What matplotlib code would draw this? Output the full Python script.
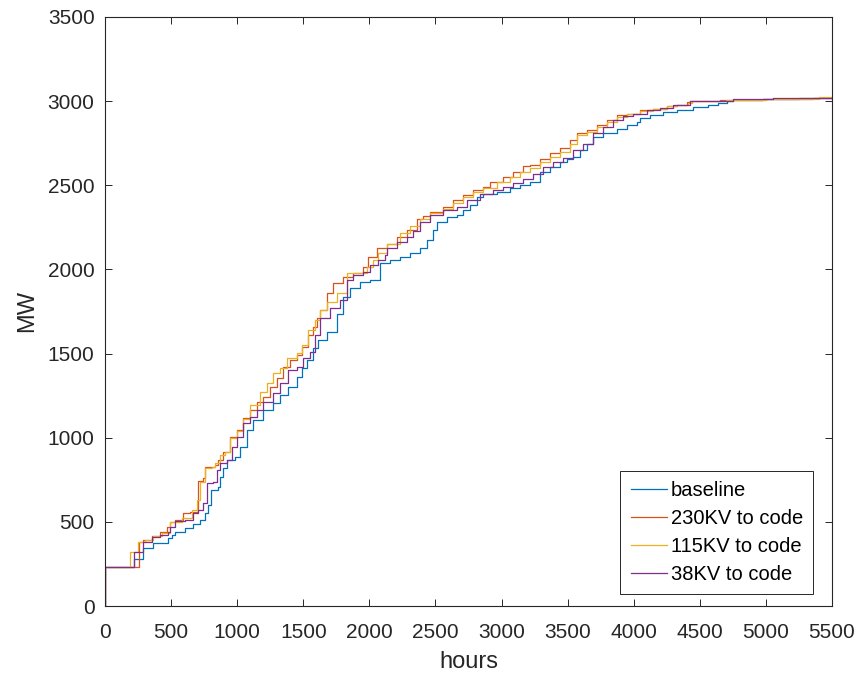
import matplotlib
matplotlib.use("Agg")
import matplotlib.pyplot as plt

# ---------------- data (hours, MW), staircase series ----------------
baseline_h = [0, 0, 222, 290, 365, 479, 504, 530, 605, 668, 718, 756, 781, 801, 857, 870, 895, 920,
              983, 1021, 1072, 1122, 1198, 1273, 1324, 1387, 1450, 1488, 1526, 1576, 1614, 1677,
              1753, 1803, 1853, 1929, 2005, 2080, 2156, 2232, 2307, 2383, 2434, 2484, 2509, 2585,
              2661, 2711, 2761, 2812, 2862, 2963, 3064, 3140, 3215, 3291, 3366, 3442, 3493, 3543,
              3593, 3644, 3694, 3770, 3871, 3946, 4022, 4047, 4123, 4224, 4325, 4451, 4564, 4640,
              4703, 4753, 4980, 5250, 5500]
baseline_mw = [0, 230, 279, 343, 372, 402, 422, 441, 461, 486, 510, 550, 598, 689, 709, 768, 818, 867,
               887, 946, 1045, 1105, 1164, 1204, 1253, 1303, 1362, 1412, 1461, 1531, 1580, 1629,
               1738, 1837, 1887, 1927, 1936, 2036, 2055, 2075, 2095, 2125, 2174, 2233, 2283, 2313,
               2323, 2352, 2382, 2431, 2451, 2461, 2481, 2501, 2520, 2580, 2610, 2639, 2659, 2669,
               2709, 2748, 2788, 2812, 2837, 2857, 2877, 2897, 2917, 2936, 2950, 2966, 2980, 2986,
               3000, 3008, 3010, 3016, 3012]

kv230_h = [0, 0, 257, 290, 353, 416, 466, 491, 529, 592, 643, 706, 743, 756, 832, 857, 895, 946,
           996, 1046, 1097, 1147, 1198, 1248, 1299, 1349, 1400, 1450, 1488, 1538, 1576, 1601, 1626,
           1677, 1727, 1803, 1878, 1954, 1992, 2055, 2131, 2207, 2282, 2358, 2408, 2459, 2559,
           2635, 2711, 2786, 2862, 2913, 3013, 3089, 3165, 3215, 3291, 3366, 3442, 3518, 3568,
           3644, 3719, 3795, 3871, 3946, 4047, 4148, 4249, 4325, 4400, 4426, 4653, 4980, 5359, 5500]
kv230_mw = [0, 232, 382, 392, 416, 441, 471, 501, 510, 554, 560, 744, 758, 827, 837, 867, 917, 1006,
            1045, 1115, 1164, 1214, 1243, 1303, 1352, 1422, 1461, 1491, 1540, 1610, 1660, 1710, 1758,
            1857, 1917, 1956, 1976, 2016, 2075, 2125, 2154, 2194, 2233, 2300, 2320, 2342, 2372,
            2412, 2441, 2471, 2491, 2520, 2550, 2580, 2614, 2620, 2659, 2689, 2719, 2768, 2808,
            2827, 2857, 2887, 2917, 2926, 2946, 2956, 2970, 2976, 2992, 3002, 3006, 3012, 3020, 3020]

kv115_h = [0, 0, 189, 252, 302, 365, 428, 491, 580, 655, 693, 718, 756, 806, 832, 870, 907, 946,
           996, 1046, 1097, 1173, 1223, 1273, 1324, 1374, 1450, 1488, 1538, 1589, 1626, 1677, 1753,
           1828, 1980, 2030, 2068, 2131, 2232, 2307, 2383, 2459, 2559, 2635, 2711, 2786, 2862,
           2963, 3064, 3140, 3215, 3291, 3366, 3442, 3518, 3568, 3644, 3719, 3795, 3871, 3946,
           4047, 4148, 4249, 4325, 4410, 4440, 4700, 5000, 5400, 5500]
kv115_mw = [0, 232, 323, 382, 392, 416, 431, 501, 521, 570, 629, 739, 818, 827, 847, 897, 917, 1000,
            1040, 1110, 1194, 1273, 1323, 1382, 1412, 1471, 1501, 1550, 1640, 1700, 1758, 1808, 1857,
            1976, 2016, 2055, 2095, 2154, 2214, 2260, 2300, 2333, 2362, 2392, 2431, 2461, 2481,
            2520, 2550, 2580, 2600, 2640, 2669, 2700, 2748, 2798, 2817, 2847, 2877, 2907, 2922,
            2942, 2956, 2970, 2976, 2990, 3002, 3008, 3014, 3022, 3022]

kv38_h = [0, 0, 222, 290, 353, 416, 479, 491, 529, 605, 668, 706, 743, 769, 819, 845, 870, 920,
          960, 996, 1046, 1097, 1147, 1198, 1273, 1324, 1387, 1450, 1500, 1551, 1589, 1626, 1702,
          1778, 1828, 1878, 1954, 2005, 2068, 2118, 2131, 2207, 2282, 2333, 2383, 2459, 2559,
          2661, 2736, 2837, 2938, 3013, 3089, 3165, 3240, 3316, 3391, 3467, 3543, 3618, 3694,
          3770, 3845, 3921, 3997, 4098, 4199, 4300, 4350, 4426, 4753, 5055, 5500]
kv38_mw = [0, 232, 323, 382, 412, 422, 441, 471, 505, 510, 550, 570, 610, 728, 738, 808, 847, 867,
           946, 1006, 1085, 1121, 1164, 1214, 1263, 1323, 1402, 1422, 1471, 1511, 1610, 1709, 1768,
           1818, 1936, 1966, 1986, 2026, 2055, 2085, 2125, 2164, 2194, 2230, 2280, 2323, 2352,
           2372, 2412, 2451, 2471, 2491, 2511, 2540, 2570, 2610, 2640, 2665, 2709, 2748, 2808,
           2847, 2887, 2911, 2926, 2946, 2962, 2976, 2980, 3002, 3010, 3020, 3022]

labels = ["baseline", "230KV to code", "115KV to code", "38KV to code"]
colors = ["#0072BD", "#D95319", "#EDB120", "#7E2F8E"]
xticks = [0, 500, 1000, 1500, 2000, 2500, 3000, 3500, 4000, 4500, 5000, 5500]
yticks = [0, 500, 1000, 1500, 2000, 2500, 3000, 3500]

plt.rcParams['font.family'] = ['Liberation Sans', 'DejaVu Sans']

fig = plt.figure(figsize=(8.65, 6.73), dpi=100)
ax = fig.add_axes([105/865, 67/673, 727/865, 589/673])

series = [(baseline_h, baseline_mw), (kv230_h, kv230_mw), (kv115_h, kv115_mw), (kv38_h, kv38_mw)]
for (h, mw), lab, col in zip(series, labels, colors):
    ax.plot(h, mw, drawstyle='steps-post', color=col, lw=0.9, label=lab)

ax.set_xlim(0, 5500)
ax.set_ylim(0, 3500)
ax.set_xticks(xticks)
ax.set_yticks(yticks)
ax.tick_params(direction='in', length=5, width=0.7, top=True, right=True,
               labelsize=15, colors='#262626')
ax.tick_params(axis='x', pad=12)
ax.tick_params(axis='y', pad=7.5)
for s in ax.spines.values():
    s.set_linewidth(0.8)
    s.set_color('#262626')

ax.set_xlabel("hours", fontsize=17, color='#262626', labelpad=6.5)
ax.set_ylabel("MW", fontsize=17, color='#262626', labelpad=7)

leg = ax.legend(loc='lower right', bbox_to_anchor=(0.974, 0.020), fontsize=14.5,
                frameon=True, fancybox=False, framealpha=1, edgecolor='#262626',
                handlelength=1.8, handletextpad=0.2, labelspacing=0.45, borderpad=0.5,
                borderaxespad=0)
leg.get_frame().set_linewidth(0.7)

fig.savefig("out.png", dpi=100)
